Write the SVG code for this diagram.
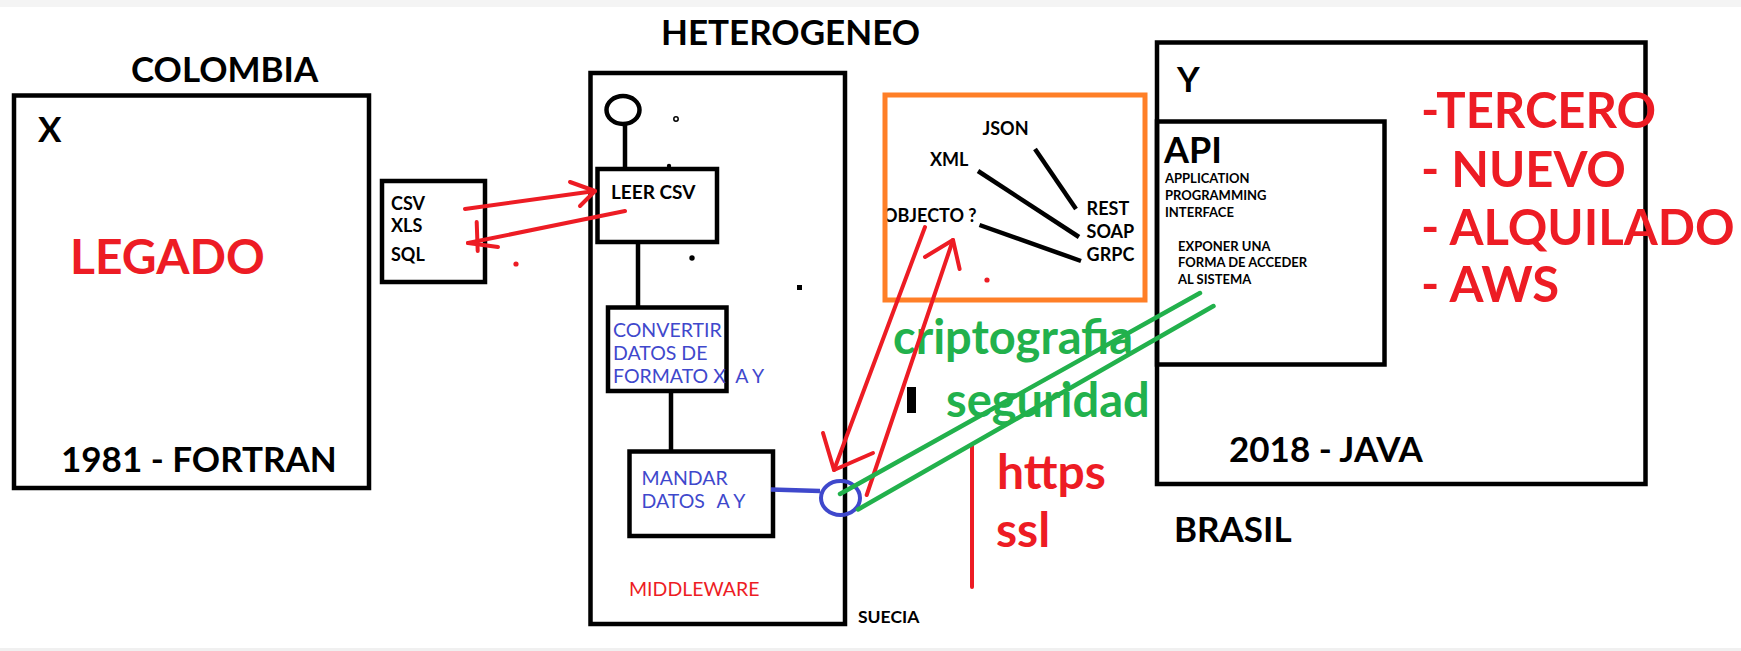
<svg xmlns="http://www.w3.org/2000/svg" width="1741" height="651" viewBox="0 0 1741 651">
<style>
.box{fill:none;stroke:#000;stroke-width:4.5}
.t{font-family:Lato,"Open Sans","Liberation Sans",sans-serif;font-weight:700;fill:#000}
.n{font-weight:400}
.red{fill:#ed1c24}
.blue{fill:#3f48cc}
.green{fill:#22b14c}
.rl{fill:none;stroke:#ed1c24;stroke-width:4;stroke-linecap:round;stroke-linejoin:round}
.bl{fill:none;stroke:#000;stroke-width:4.5;stroke-linecap:butt}
.gl{fill:none;stroke:#22b14c;stroke-width:4.5;stroke-linecap:round}
</style>
<rect x="0" y="0" width="1741" height="651" fill="#fff"/>
<rect x="0" y="0" width="1741" height="7" fill="#f4f4f4"/>
<rect x="0" y="648" width="1741" height="3" fill="#f0f0f0"/>

<g id="colombia">
<text class="t" x="131" y="82" font-size="35">COLOMBIA</text>
</g>
<g id="x-system">
<rect class="box" x="14" y="95.5" width="355" height="392.5"/>
<text class="t" x="38" y="142" font-size="35">X</text>
<text class="t red" x="70" y="274" font-size="48">LEGADO</text>
<text class="t" x="61" y="471.7" font-size="35">1981 - FORTRAN</text>
</g>
<g id="formats">
<rect class="box" x="382" y="181" width="103" height="101"/>
<text class="t" x="391" y="210" font-size="18">CSV</text>
<text class="t" x="391" y="232.3" font-size="18">XLS</text>
<text class="t" x="391" y="261" font-size="18">SQL</text>
</g>
<g id="heterogeneo">
<text class="t" x="661" y="45" font-size="35">HETEROGENEO</text>
</g>
<g id="middleware">
<rect class="box" x="590.5" y="73" width="254.5" height="551"/>
<ellipse cx="623" cy="110" rx="16.5" ry="14" fill="none" stroke="#000" stroke-width="4.5"/>
<circle cx="676" cy="119" r="2.2" fill="none" stroke="#000" stroke-width="1.5"/>
<circle cx="669" cy="166" r="2.2" fill="#000"/>
<circle cx="692" cy="258" r="2.7" fill="#000"/>
<rect x="797" y="285" width="5" height="5" fill="#000"/>
<text class="t red n" x="629" y="596" font-size="19.5">MIDDLEWARE</text>
</g>
<g id="leer-csv">
<rect class="box" x="597.5" y="169" width="119.5" height="73"/>
<text class="t" x="611" y="199" font-size="19">LEER CSV</text>
</g>
<g id="convertir">
<rect class="box" x="608" y="307.5" width="118.5" height="83.5"/>
<text class="t blue n" x="613" y="337" font-size="19.5">CONVERTIR</text>
<text class="t blue n" x="613" y="360" font-size="19.5">DATOS DE</text>
<text class="t blue n" x="613" y="383.3" font-size="19.5" xml:space="preserve">FORMATO X  A Y</text>
</g>
<g id="mandar">
<rect class="box" x="629.5" y="451.5" width="143.5" height="84.5"/>
<text class="t blue n" x="641.6" y="485" font-size="19.5">MANDAR</text>
<text class="t blue n" x="641.6" y="508" font-size="19.5">DATOS</text>
<text class="t blue n" x="716.6" y="508" font-size="19.5">A Y</text>
</g>
<g id="suecia">
<text class="t" x="858" y="622.7" font-size="17.5">SUECIA</text>
</g>
<g id="formatos-api">
<text class="t" x="982.5" y="135" font-size="18">JSON</text>
<text class="t" x="930" y="166" font-size="18">XML</text>
<text class="t" x="883" y="222" font-size="18">OBJECTO ?</text>
<text class="t" x="1086.6" y="215" font-size="18">REST</text>
<text class="t" x="1086.6" y="238" font-size="18">SOAP</text>
<text class="t" x="1086.6" y="261" font-size="18">GRPC</text>
<line class="bl" x1="1035" y1="149" x2="1076" y2="209"/>
<line class="bl" x1="978" y1="171" x2="1079" y2="237"/>
<line class="bl" x1="979.5" y1="225" x2="1081" y2="261"/>
<circle cx="987" cy="280" r="2.6" fill="#ed1c24"/>
<rect x="885" y="95" width="260" height="205" fill="none" stroke="#ff7f27" stroke-width="5"/>
</g>
<g id="y-system">
<rect class="box" x="1157" y="42.5" width="488.5" height="441.5"/>
<text class="t" x="1177" y="91.7" font-size="35">Y</text>
<text class="t" x="1229" y="461.7" font-size="35">2018 - JAVA</text>
</g>
<g id="api">
<rect class="box" x="1157" y="121.5" width="227.5" height="243"/>
<text class="t" x="1164" y="162.7" font-size="36" font-weight="600">API</text>
<text class="t" x="1165" y="183.3" font-size="13">APPLICATION</text>
<text class="t" x="1165" y="200" font-size="13">PROGRAMMING</text>
<text class="t" x="1165" y="216.7" font-size="13">INTERFACE</text>
<text class="t" x="1178" y="250.7" font-size="13">EXPONER UNA</text>
<text class="t" x="1178" y="267.3" font-size="13">FORMA DE ACCEDER</text>
<text class="t" x="1178" y="284" font-size="13">AL SISTEMA</text>
</g>
<g id="caracteristicas">
<text class="t red" x="1421" y="128.3" font-size="49">-TERCERO</text>
<text class="t red" x="1421" y="186.7" font-size="49">- NUEVO</text>
<text class="t red" x="1421" y="245" font-size="49">- ALQUILADO</text>
<text class="t red" x="1421" y="302.3" font-size="49">- AWS</text>
</g>
<g id="brasil">
<text class="t" x="1174" y="542" font-size="35">BRASIL</text>
</g>
<g id="seguridad-labels">
<text class="t green" x="893" y="354" font-size="47">criptografia</text>
<text class="t green" x="946" y="417" font-size="47">seguridad</text>
<text class="t red" x="997" y="489" font-size="48">https</text>
<text class="t red" x="996" y="546.7" font-size="48">ssl</text>
<rect x="907" y="387" width="9" height="26" fill="#000"/>
<circle cx="516" cy="264" r="2.6" fill="#ed1c24"/>
</g>

<g id="connectors">
<line class="bl" x1="625" y1="124" x2="625" y2="169"/>
<line class="bl" x1="638" y1="244" x2="638" y2="307.5"/>
<line class="bl" x1="671" y1="391" x2="671" y2="451.5"/>
<line x1="771" y1="489.5" x2="820" y2="491" stroke="#3f48cc" stroke-width="4.5"/>
<ellipse cx="840.5" cy="498" rx="19.5" ry="17" fill="none" stroke="#3f48cc" stroke-width="4"/>
<line class="rl" x1="465" y1="209" x2="595" y2="191"/>
<polyline class="rl" points="570,182 595,191 580,206"/>
<line class="rl" x1="625" y1="211" x2="468" y2="243"/>
<line class="rl" x1="476.7" y1="222" x2="477.7" y2="251"/>
<line class="rl" x1="468" y1="243" x2="498" y2="247"/>
<line class="rl" x1="925" y1="227" x2="834" y2="470"/>
<polyline class="rl" points="823,433 834,470 873,453"/>
<line class="rl" x1="866.7" y1="495" x2="953" y2="240"/>
<polyline class="rl" points="925,257 953,240 959.6,269"/>
<line class="rl" x1="972" y1="445" x2="972" y2="587"/>
<line class="gl" x1="840" y1="494" x2="1200" y2="293"/>
<line class="gl" x1="858" y1="509.5" x2="1213.5" y2="306"/>
</g>
</svg>
